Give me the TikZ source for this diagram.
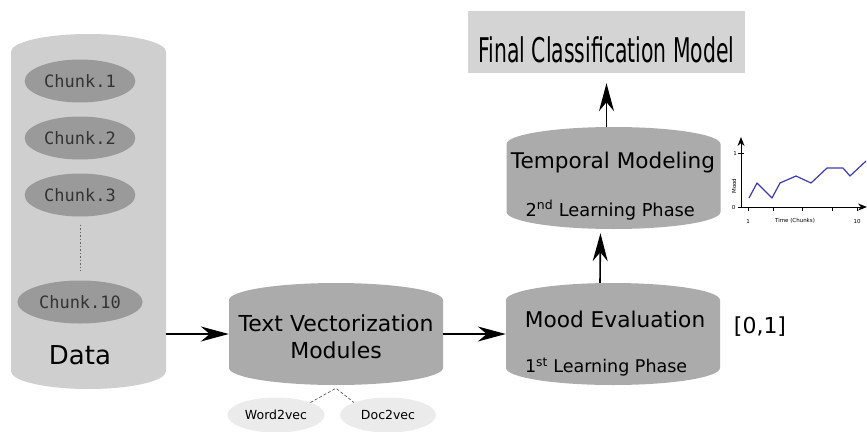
\documentclass[tikz,border=0pt]{standalone}
\usepackage{fontspec}
\setmainfont{DejaVu Sans}
\newfontfamily\chunkfont{DejaVu Sans Mono}
\newfontfamily\titlefont[FakeStretch=0.6]{DejaVu Sans}
\usetikzlibrary{shapes.geometric,arrows.meta,positioning}
\definecolor{datagray}{HTML}{CFCFCF}
\definecolor{chunkgray}{HTML}{9A9A9A}
\definecolor{stepgray}{HTML}{ABABAB}
\definecolor{titlegray}{HTML}{D4D4D4}
\definecolor{embgray}{HTML}{EBEBEB}
\definecolor{moodblue}{HTML}{3A3AB0}

\begin{document}
\begin{tikzpicture}[x=1pt,y=-1pt,node distance=57pt,on grid,
  proc/.style={cylinder,shape border rotate=90,aspect=0.16,fill=stepgray,anchor=shape center,
    text width=214pt,align=center,minimum width=214pt,minimum height=102pt,inner sep=0pt},
  chunk/.style={ellipse,fill=chunkgray,minimum width=96pt,minimum height=43pt,
    text=black!80,font=\chunkfont\fontsize{17}{17}\selectfont},
  emb/.style={ellipse,fill=embgray,minimum width=96pt,minimum height=35pt,
    font=\fontsize{12.5}{13}\selectfont},
  flow/.style={-{Stealth[length=28pt,width=15pt,inset=9pt]},line width=1.6pt},
  axis/.style={-{Stealth[length=9pt,width=7pt]},line width=1pt},
  tiny/.style={font=\fontsize{5.5}{6}\selectfont,inner sep=1pt}]
  \useasboundingbox (0,0) rectangle (867,431);

  % data store with its chunks
  \node[cylinder,shape border rotate=90,aspect=0.23,fill=datagray,text width=155pt,
    anchor=shape center,inner sep=0pt,minimum width=155pt,minimum height=355pt]
    (data) at (88.5,211.5) {};
  \node[chunk] (chunk1) at (80,81) {Chunk.1};
  \node[chunk] (chunk2) [below=of chunk1] {Chunk.2};
  \node[chunk] (chunk3) [below=of chunk2] {Chunk.3};
  \node[chunk] (chunk10) [below=107pt of chunk3] {Chunk.10};
  \draw[black!60,line width=0.8pt,dash pattern=on 1.5pt off 2pt,
    shorten <=8pt,shorten >=9pt] (chunk3) -- (chunk10);
  \node[font=\fontsize{26}{26}\selectfont] (datalbl) at (80,355) {Data};

  % processing steps
  \node[proc] (vector) at (336,334) {};
  \node[align=center,font=\fontsize{22}{27.5}\selectfont] (vectorlbl) at (336,337)
    {Text Vectorization\\Modules};
  \node[emb] (word) at (276,415) {Word2vec};
  \node[emb] (doc) at (388,415) {Doc2vec};
  \coordinate (fork) at ([yshift=-3pt]vector.south);
  \draw[black!70,line width=0.6pt,dash pattern=on 3pt off 2pt]
    (word.north east) -- (fork) -- (doc.north west);

  \node[proc] (mood) at (613,334) {};
  \node[font=\fontsize{21.7}{22}\selectfont] (moodtitle) at (615,319) {Mood Evaluation};
  \node[anchor=west,font=\fontsize{17.5}{18}\selectfont] (moodphase) at (521.5,367)
    {1\textsuperscript{st} Learning Phase};
  \node[font=\fontsize{22}{22}\selectfont] (range) at (760,327) {[0,1]};

  \node[proc] (temporal) at (613.5,178) {};
  \node[font=\fontsize{21.6}{22}\selectfont] (temptitle) at (613,163) {Temporal Modeling};
  \node[anchor=west,font=\fontsize{17.8}{18}\selectfont] (tempphase) at (522,210)
    {2\textsuperscript{nd} Learning Phase};

  \node[fill=titlegray,minimum width=277pt,minimum height=62pt,text height=40pt,
    text depth=0pt,font=\titlefont\fontsize{34}{34}\selectfont] (final) at (606.5,42)
    {Final Classification Model};

  % flow
  \draw[flow] (data.east |- vector.shape center) -- (vector.west |- vector.shape center);
  \draw[flow] (vector.east |- vector.shape center) -- (mood.west |- mood.shape center);
  \draw[flow,shorten >=4pt] ([xshift=-13pt]mood.north) -- ([xshift=-13pt]temporal.south);
  \draw[flow,shorten >=10pt] ([xshift=-7pt]temporal.north) -- (final.south);

  % mood over time
  \coordinate (origin) at (741,207);
  \coordinate (ytop) at (741,137);
  \coordinate (xend) at (867,207);
  \draw[axis] (origin) -- (ytop);
  \draw[axis] (origin) -- (xend);
  \foreach \y in {153,207} \draw[line width=0.8pt] (738,\y) -- (744,\y);
  \foreach \x in {748,773,802,832,857} \draw[line width=0.8pt] (\x,207) -- (\x,210.5);
  \node[tiny] (yone) at (735,153) {1};
  \node[tiny] (yzero) at (733.5,207) {0};
  \node[tiny,rotate=90] (ylbl) at (734,186) {Mood};
  \node[tiny] (xone) at (748,221) {1};
  \node[tiny] (xlbl) at (795,221) {Time (Chunks)};
  \node[tiny] (xten) at (857,221) {10};
  \draw[moodblue,line width=1.2pt,line join=round] (749,198) -- (757,183) -- (772,198)
    -- (780,183) -- (796,176) -- (811,183) -- (827,168) -- (843,168) -- (850,176)
    -- (866,161);
\end{tikzpicture}
\end{document}
